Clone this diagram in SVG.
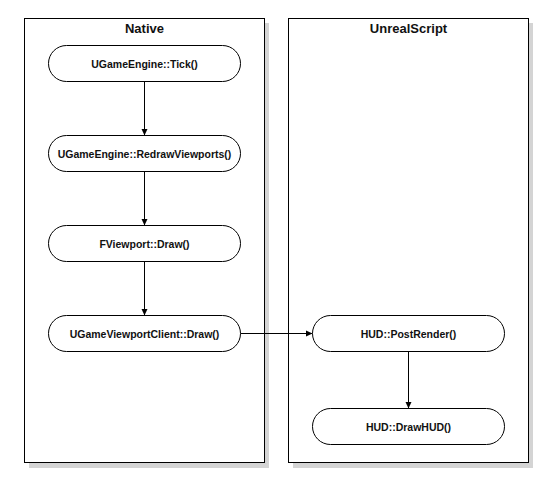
<svg xmlns="http://www.w3.org/2000/svg" width="552" height="480" viewBox="0 0 552 480">
<style>
.shadow{fill:#d4d4d4;stroke:none}
.panel{fill:#fff;stroke:#000;stroke-width:1}
.title{font-family:"Liberation Sans",Arial,sans-serif;font-weight:bold;font-size:13px;fill:#111;text-anchor:middle}
.node{fill:#fff;stroke:#000;stroke-width:1}
.lbl{font-family:"Liberation Sans",Arial,sans-serif;font-weight:bold;font-size:10.5px;fill:#111;text-anchor:middle}
.edge{fill:none;stroke:#000;stroke-width:1}
</style>
<defs>
<marker id="arr" markerWidth="8" markerHeight="8" refX="7" refY="4" orient="auto" markerUnits="userSpaceOnUse">
<path d="M0,0.8 L7,4 L0,7.2 Z" fill="#000"/>
</marker>
</defs>
<rect width="552" height="480" fill="#fff"/>
<g id="lane-native">
<rect class="shadow" x="29" y="23" width="240" height="445"/>
<rect class="panel" x="24.5" y="18.5" width="240" height="444"/>
<text class="title" x="144.5" y="33">Native</text>
</g>
<g id="lane-unrealscript">
<rect class="shadow" x="293" y="23" width="240" height="445"/>
<rect class="panel" x="288.5" y="18.5" width="240" height="444"/>
<text class="title" x="408.5" y="33">UnrealScript</text>
</g>
<g id="connectors">
<line class="edge" x1="144.5" y1="81.5" x2="144.5" y2="135.5" marker-end="url(#arr)"/>
<line class="edge" x1="144.5" y1="171.5" x2="144.5" y2="225.5" marker-end="url(#arr)"/>
<line class="edge" x1="144.5" y1="261.5" x2="144.5" y2="315.5" marker-end="url(#arr)"/>
<line class="edge" x1="240.5" y1="333.5" x2="312.5" y2="333.5" marker-end="url(#arr)"/>
<line class="edge" x1="408.5" y1="351.5" x2="408.5" y2="408.5" marker-end="url(#arr)"/>
</g>
<g id="n-tick">
<rect class="node" x="48.5" y="45.5" width="192" height="36" rx="18" ry="18"/>
<text class="lbl" x="144.5" y="67.5">UGameEngine::Tick()</text>
</g>
<g id="n-redraw">
<rect class="node" x="48.5" y="135.5" width="192" height="36" rx="18" ry="18"/>
<text class="lbl" x="144.5" y="157.5">UGameEngine::RedrawViewports()</text>
</g>
<g id="n-fviewport">
<rect class="node" x="48.5" y="225.5" width="192" height="36" rx="18" ry="18"/>
<text class="lbl" x="144.5" y="247.5">FViewport::Draw()</text>
</g>
<g id="n-client">
<rect class="node" x="48.5" y="315.5" width="192" height="36" rx="18" ry="18"/>
<text class="lbl" x="144.5" y="337.5">UGameViewportClient::Draw()</text>
</g>
<g id="n-postrender">
<rect class="node" x="312.5" y="315.5" width="192" height="36" rx="18" ry="18"/>
<text class="lbl" x="408.5" y="337.5">HUD::PostRender()</text>
</g>
<g id="n-drawhud">
<rect class="node" x="312.5" y="408.5" width="192" height="36" rx="18" ry="18"/>
<text class="lbl" x="408.5" y="430.5">HUD::DrawHUD()</text>
</g>
</svg>
